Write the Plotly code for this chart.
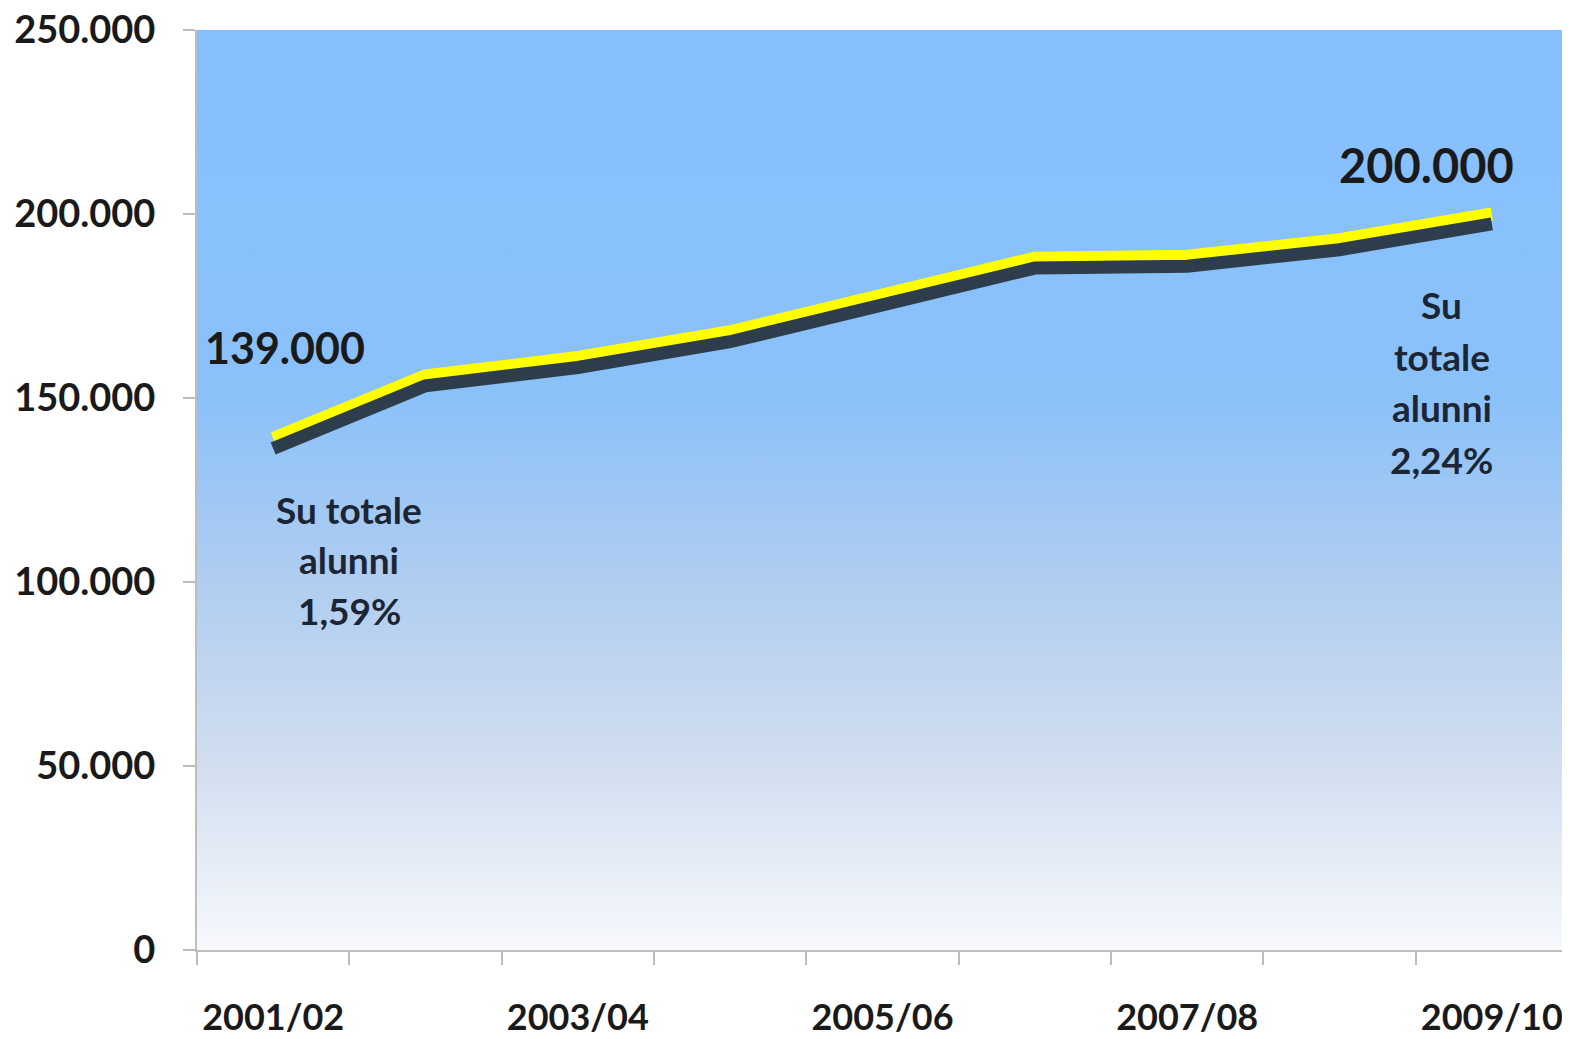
"""
Alunni stranieri 2001/02 - 2009/10
Yellow line with dark drop shadow over a blue vertical gradient
"""
import plotly.graph_objects as go

years = ['2001/02', '2002/03', '2003/04', '2004/05', '2005/06',
         '2006/07', '2007/08', '2008/09', '2009/10']
students = [139000, 156000, 161000, 168000, 178000, 188000, 188500, 193000, 200000]
shown_ticks = ['2001/02', '2003/04', '2005/06', '2007/08', '2009/10']
y_ticks = [0, 50000, 100000, 150000, 200000, 250000]

FONT = 'Lato'
TEXT = '#1a1a1a'
LABEL = '#1c2533'
AXIS = '#bdbdbd'

x_idx = list(range(len(years)))
y_max = 250000
shadow_shift = 2700  # drop shadow offset, in data units

fig = go.Figure()

# gradient background filling the whole plot area
fig.add_trace(go.Scatter(
    x=[-0.5, len(years) - 0.5, len(years) - 0.5, -0.5, -0.5],
    y=[0, 0, y_max, y_max, 0],
    mode='lines',
    line=dict(width=0),
    fill='toself',
    fillgradient=dict(
        type='vertical',
        start=0,
        stop=y_max,
        colorscale=[
            [0.0, '#f7f9fc'],
            [0.2, '#d2def0'],
            [0.4, '#b0cdf0'],
            [0.6, '#8bc1f9'],
            [1.0, '#85c0ff'],
        ],
    ),
    hoverinfo='skip',
    showlegend=False,
))

# shadow: same data on a slightly shifted hidden axis
fig.add_trace(go.Scatter(
    x=x_idx,
    y=students,
    yaxis='y2',
    mode='lines',
    line=dict(color='#2e3d4c', width=13),
    hoverinfo='skip',
    showlegend=False,
))

fig.add_trace(go.Scatter(
    x=x_idx,
    y=students,
    mode='lines',
    line=dict(color='#ffff00', width=13),
    showlegend=False,
))

# value callouts
fig.add_annotation(x=0.08, y=163600, xref='x', yref='y', text='139.000',
                   showarrow=False, font=dict(family=FONT, size=43, color=TEXT, weight='bold'))
fig.add_annotation(x=7.57, y=213300, xref='x', yref='y', text='200.000',
                   showarrow=False, font=dict(family=FONT, size=47, color=TEXT, weight='bold'))

left_note = ['Su totale', 'alunni', '1,59%']
left_y = [119800, 106000, 92200]
for line, yv in zip(left_note, left_y):
    fig.add_annotation(x=0.5, y=yv, xref='x', yref='y', text=line, showarrow=False,
                       font=dict(family=FONT, size=37, color=LABEL, weight='bold'))

right_note = ['Su', 'totale', 'alunni', '2,24%']
right_y = [175300, 161200, 147300, 133300]
for line, yv in zip(right_note, right_y):
    fig.add_annotation(x=7.67, y=yv, xref='x', yref='y', text=line, showarrow=False,
                       font=dict(family=FONT, size=37, color=LABEL, weight='bold'))

# the page body adds an 8px offset, so the figure is sized to fit the window
fig.update_layout(
    width=1562,
    height=1031,
    margin=dict(l=189, r=2, t=22, b=89),
    paper_bgcolor='white',
    plot_bgcolor='white',
    separators=',.',
    xaxis=dict(
        range=[-0.5, len(years) - 0.5],
        automargin=False,
        tickmode='array',
        tickvals=[years.index(t) for t in shown_ticks],
        ticktext=shown_ticks,
        ticks='',
        ticklabelstandoff=35,
        ticklabeloverflow='allow',
        tickfont=dict(family=FONT, size=36, color=TEXT, weight='bold'),
        minor=dict(tickmode='linear', tick0=-0.5, dtick=1, ticks='outside',
                   ticklen=13, tickwidth=2, tickcolor=AXIS, showgrid=False),
        showgrid=False,
        zeroline=False,
        showline=True,
        linecolor=AXIS,
        linewidth=2,
        fixedrange=True,
    ),
    yaxis=dict(
        range=[0, y_max],
        automargin=False,
        tickmode='array',
        tickvals=y_ticks,
        tickformat=',d',
        ticks='outside',
        ticklen=12,
        tickwidth=2,
        tickcolor=AXIS,
        ticklabelstandoff=20,
        ticklabeloverflow='allow',
        tickfont=dict(family=FONT, size=38, color=TEXT, weight='bold'),
        showgrid=False,
        zeroline=False,
        showline=True,
        linecolor=AXIS,
        linewidth=2,
        fixedrange=True,
    ),
    yaxis2=dict(
        overlaying='y',
        range=[shadow_shift, y_max + shadow_shift],
        visible=False,
        showgrid=False,
        automargin=False,
        fixedrange=True,
    ),
)

fig.write_html("out.html")
